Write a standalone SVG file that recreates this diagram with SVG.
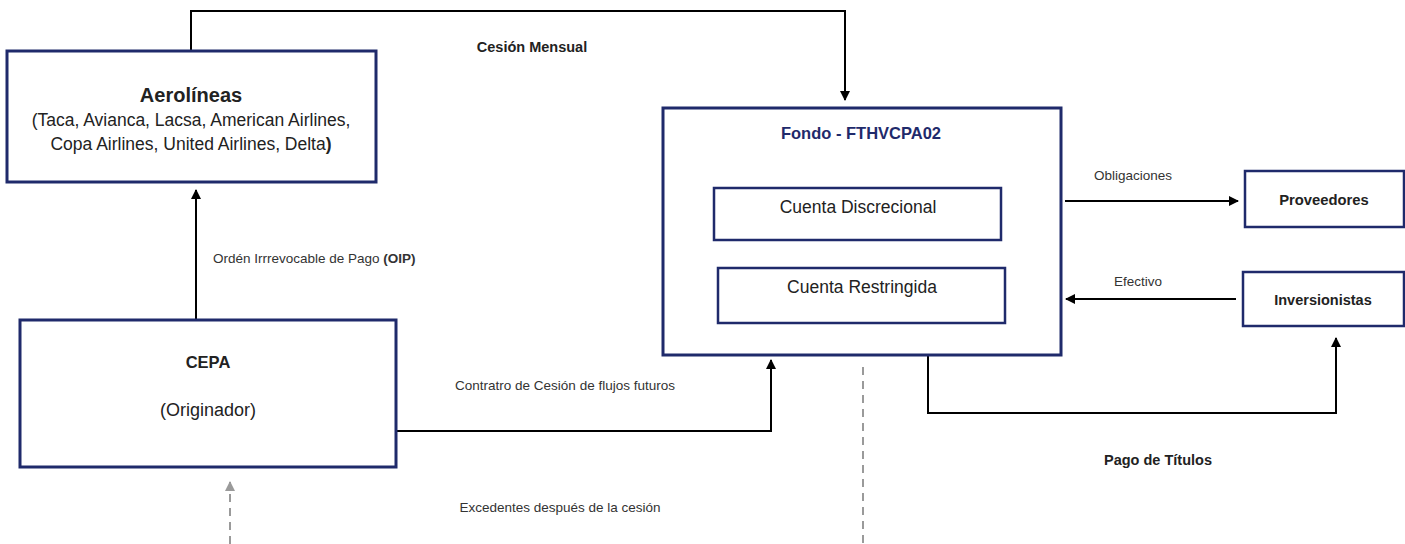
<svg xmlns="http://www.w3.org/2000/svg" width="1405" height="544" viewBox="0 0 1405 544">
<style>
.box{fill:#fff;stroke:#1f2a6b;stroke-width:3}
.ibox{fill:#fff;stroke:#1f2a6b;stroke-width:2.5}
.ln{fill:none;stroke:#000;stroke-width:2}
.dash{fill:none;stroke:#9a9a9a;stroke-width:2;stroke-dasharray:8 6}
text{font-family:"Liberation Sans",Arial,sans-serif;fill:#222}
.b{font-weight:bold}
.lbl{font-size:13.5px;fill:#333}
</style>
<defs>
<marker id="ah" viewBox="0 0 10 10" refX="9" refY="5" markerWidth="5" markerHeight="5" orient="auto-start-reverse"><path d="M0,0 L10,5 L0,10 z" fill="#000"/></marker>
<marker id="ahg" viewBox="0 0 10 10" refX="9" refY="5" markerWidth="5" markerHeight="5" orient="auto-start-reverse"><path d="M0,0 L10,5 L0,10 z" fill="#9a9a9a"/></marker>
</defs>
<g id="connectors">
<path class="ln" d="M191,51 V11 H845 V100" marker-end="url(#ah)"/>
<path class="ln" d="M196,320 V190" marker-end="url(#ah)"/>
<path class="ln" d="M396,431 H771 V360" marker-end="url(#ah)"/>
<path class="ln" d="M1065,201 H1238" marker-end="url(#ah)"/>
<path class="ln" d="M1236,299 H1066" marker-end="url(#ah)"/>
<path class="ln" d="M928,355 V413 H1336 V338" marker-end="url(#ah)"/>
<path class="dash" d="M230,544 V482" marker-end="url(#ahg)"/>
<path class="dash" d="M863,367 V544"/>
<text class="b" x="532" y="52" text-anchor="middle" font-size="14.5">Cesión Mensual</text>
<text class="lbl" x="213" y="263" font-size="14.5">Ordén Irrrevocable de Pago <tspan class="b">(OIP)</tspan></text>
<text class="lbl" x="565" y="390" text-anchor="middle" font-size="14.3">Contratro de Cesión de flujos futuros</text>
<text class="lbl" x="560" y="512" text-anchor="middle" font-size="14.3">Excedentes después de la cesión</text>
<text class="lbl" x="1133" y="180" text-anchor="middle" font-size="14">Obligaciones</text>
<text class="lbl" x="1138" y="286" text-anchor="middle" font-size="14">Efectivo</text>
<text class="b" x="1158" y="465" text-anchor="middle" font-size="14.5">Pago de Títulos</text>
</g>
<g id="aerolineas">
<rect class="box" x="7" y="51" width="369" height="131"/>
<text class="b" x="191" y="102" text-anchor="middle" font-size="20">Aerolíneas</text>
<text x="191" y="126" text-anchor="middle" font-size="17.5">(Taca, Avianca, Lacsa, American Airlines,</text>
<text x="191" y="150" text-anchor="middle" font-size="17.5">Copa Airlines, United Airlines, Delta<tspan class="b">)</tspan></text>
</g>
<g id="cepa">
<rect class="box" x="20" y="320" width="376" height="147"/>
<text class="b" x="208" y="368" text-anchor="middle" font-size="16.5">CEPA</text>
<text x="208" y="416" text-anchor="middle" font-size="18">(Originador)</text>
</g>
<g id="fondo">
<rect class="box" x="663" y="108" width="398" height="247"/>
<text class="b" x="861" y="139" text-anchor="middle" font-size="16.5" style="fill:#1f2a6b">Fondo - FTHVCPA02</text>
</g>
<g id="cuenta-discrecional">
<rect class="ibox" x="714" y="188" width="287" height="52"/>
<text x="858" y="213" text-anchor="middle" font-size="17.5">Cuenta Discrecional</text>
</g>
<g id="cuenta-restringida">
<rect class="ibox" x="718" y="268" width="287" height="55"/>
<text x="862" y="293" text-anchor="middle" font-size="17.5">Cuenta Restringida</text>
</g>
<g id="proveedores">
<rect class="ibox" x="1245" y="171" width="159" height="56"/>
<text class="b" x="1324" y="205" text-anchor="middle" font-size="14.8">Proveedores</text>
</g>
<g id="inversionistas">
<rect class="ibox" x="1243" y="272" width="161" height="54"/>
<text class="b" x="1323" y="305" text-anchor="middle" font-size="14.5">Inversionistas</text>
</g>
</svg>
